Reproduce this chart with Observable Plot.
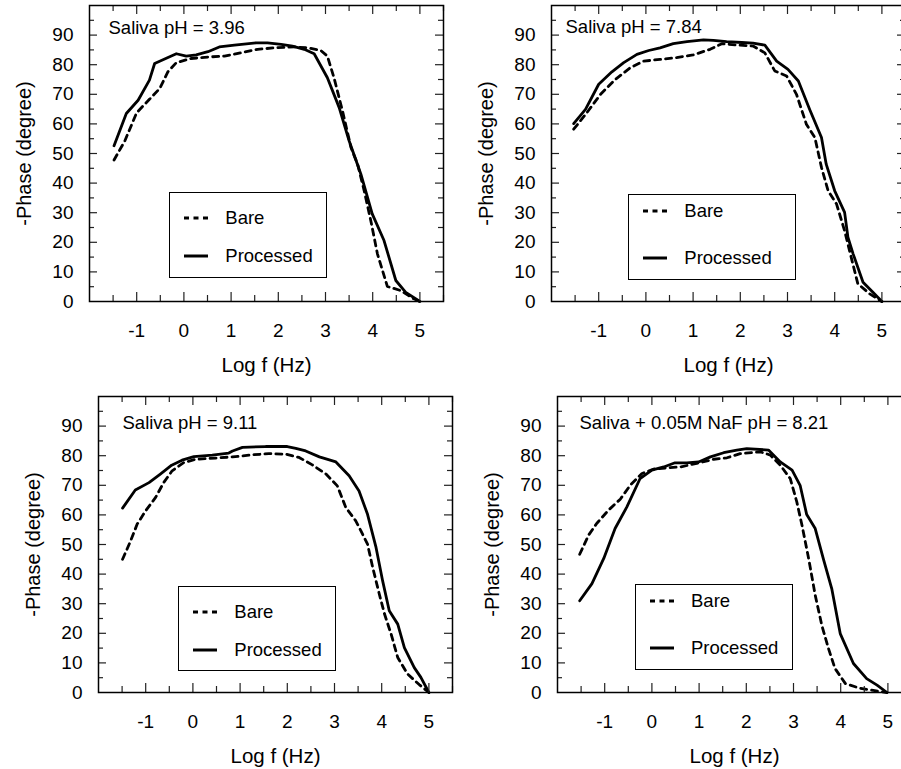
<!DOCTYPE html>
<html>
<head>
<meta charset="utf-8">
<script src="https://cdn.jsdelivr.net/npm/d3@7"></script>
<script src="https://cdn.jsdelivr.net/npm/@observablehq/plot@0.6"></script>
<style>
  html, body { margin: 0; padding: 0; background: white; }
  #wrap { position: relative; width: 901px; height: 769px; overflow: hidden; background: white;
          font-family: "Liberation Sans", Arial, sans-serif; }
  .panel { position: absolute; width: 450px; height: 384px; }
  .legend { position: absolute; border: 1px solid black; background: white; box-sizing: border-box; }
  .legend .row { position: absolute; left: 0; right: 0; height: 24px; }
  .legend svg { position: absolute; left: 0; top: 0; }
  .legend span { position: absolute; font-size: 18.5px; line-height: 24px; color: black; white-space: nowrap; }
</style>
</head>
<body>
<div id="wrap"></div>
<script>
// ---------------- data ----------------
const panelTitles = ["Saliva pH = 3.96", "Saliva pH = 7.84", "Saliva pH = 9.11", "Saliva + 0.05M NaF pH = 8.21"];
const seriesNames = ["Bare", "Processed"];
const xTickLabels = [-1, 0, 1, 2, 3, 4, 5];
const yTickLabels = [0, 10, 20, 30, 40, 50, 60, 70, 80, 90];
const xMinorTicks = [-1.5, -0.5, 0.5, 1.5, 2.5, 3.5, 4.5, 5.5];
const xMajorTicks = [-1, 0, 1, 2, 3, 4, 5];
const yMajorTicks = [10, 20, 30, 40, 50, 60, 70, 80, 90];
const yMinorTicks = [5, 15, 25, 35, 45, 55, 65, 75, 85, 95];
const xTitle = "Log f (Hz)";
const yTitle = "-Phase (degree)";

const p1Processed = [[-1.48,52.6],[-1.22,63.5],[-0.97,68],[-0.73,74.8],[-0.62,80.4],[-0.16,83.7],[0.05,82.9],[0.26,83.3],[0.51,84.4],[0.75,86],[1.07,86.6],[1.53,87.4],[1.77,87.4],[2.06,86.9],[2.3,86.3],[2.55,85.2],[2.76,83.7],[3.04,75.6],[3.29,65.5],[3.5,54.3],[3.75,43],[3.99,29.6],[4.24,20.6],[4.49,7.1],[4.7,3.1],[5.0,0]];
const p1Bare = [[-1.48,47.8],[-1.25,54.3],[-1.0,63.8],[-0.73,68.3],[-0.51,72],[-0.34,77.6],[-0.16,80.7],[0.15,82.1],[0.51,82.6],[0.86,82.9],[1.21,84],[1.56,85.2],[1.92,85.7],[2.34,86],[2.62,85.7],[2.9,84.8],[3.04,82.9],[3.18,75.6],[3.36,64.4],[3.54,52],[3.68,46.4],[3.82,37.4],[3.96,27.3],[4.1,16.1],[4.31,5.1],[4.59,3.7],[4.87,0.9],[5.0,0]];

const p2Processed = [[-1.53,60.1],[-1.28,64.9],[-1.0,73.4],[-0.72,77.6],[-0.47,80.7],[-0.19,83.5],[0.06,84.8],[0.3,85.7],[0.58,87.1],[0.87,87.8],[1.22,88.4],[1.43,88.2],[1.71,87.8],[2.03,87.5],[2.27,87.3],[2.52,86.6],[2.77,81.2],[3.01,78.4],[3.23,74.5],[3.47,64.9],[3.72,55.4],[3.82,46.4],[4.0,37.4],[4.21,30.1],[4.28,21.7],[4.39,16.1],[4.6,6.5],[4.81,3.1],[5.0,0]];
const p2Bare = [[-1.53,58.2],[-1.25,63.8],[-0.96,70],[-0.65,75],[-0.33,79],[-0.05,81.2],[0.3,81.8],[0.65,82.4],[1.0,83.3],[1.36,85.2],[1.61,87.1],[1.99,86.6],[2.27,86.3],[2.52,84],[2.73,77.9],[2.98,76.2],[3.19,70],[3.4,59.9],[3.58,55.4],[3.72,45.3],[3.86,37.4],[4.04,32.9],[4.21,23.9],[4.35,14.9],[4.49,6],[4.74,2.6],[5.0,0]];

const p3Processed = [[-1.49,62.3],[-1.22,68.4],[-0.93,70.9],[-0.69,73.8],[-0.45,76.8],[-0.23,78.5],[0.02,79.7],[0.41,80.2],[0.76,80.9],[0.84,81.6],[1.05,82.8],[1.54,83.1],[2.0,83.1],[2.18,82.5],[2.39,81.6],[2.68,79.6],[3.03,77.9],[3.31,73.2],[3.52,68.1],[3.7,60.2],[3.88,49],[4.02,37.7],[4.16,27.6],[4.34,23.1],[4.48,15.2],[4.69,8.4],[4.83,5.1],[5.0,0]];
const p3Bare = [[-1.49,45],[-1.32,51.2],[-1.18,56.9],[-1.0,61.4],[-0.79,65.9],[-0.62,70.9],[-0.44,74.9],[-0.19,77.7],[0.06,78.8],[0.48,79.2],[0.84,79.6],[1.26,80.3],[1.61,80.7],[1.97,80.5],[2.25,79.4],[2.53,76.9],[2.82,73.8],[3.06,69.8],[3.24,62.5],[3.45,58],[3.56,54.6],[3.7,50.1],[3.81,42.2],[3.95,33.2],[4.06,26.5],[4.2,19.7],[4.34,11.8],[4.55,6.2],[4.8,2.6],[5.0,0]];

const p4Processed = [[-1.53,31],[-1.27,36.8],[-1.02,45.3],[-0.78,55.4],[-0.53,62.7],[-0.25,72.3],[0.0,75.1],[0.25,76.2],[0.49,77.6],[0.74,77.6],[0.99,77.9],[1.24,79.6],[1.52,81],[1.8,81.9],[2.01,82.4],[2.47,81.9],[2.72,77.9],[2.97,75.1],[3.14,70],[3.28,60.1],[3.46,55.4],[3.64,44.7],[3.81,35.1],[3.99,19.9],[4.27,9.8],[4.55,4.7],[4.77,2.5],[4.98,0]];
const p4Bare = [[-1.53,46.7],[-1.34,53.2],[-1.17,57.1],[-0.92,61.6],[-0.67,65.3],[-0.46,70],[-0.21,74],[0.04,75.5],[0.32,75.9],[0.6,76.2],[0.95,77.4],[1.31,78.8],[1.59,79.3],[1.87,80.7],[2.3,81.3],[2.51,80.2],[2.72,76.8],[2.93,72.3],[3.07,64.4],[3.18,56.5],[3.32,45.3],[3.46,32.9],[3.6,22.7],[3.74,14.9],[3.88,8.1],[4.1,3],[4.41,1.4],[4.69,0.7],[4.98,0]];

// ---------------- layout (positions / sizes, not data) ----------------
const W = 450, H = 384, ML = 88, MR = 8, MT = 5, MB = 83;
const FW = W - ML - MR, FH = H - MT - MB;
const panels = [
  {left: 0.5, top: 0,   title: panelTitles[0], bare: p1Bare, proc: p1Processed, tdx: 19, tdy: 23,
   leg: {l: 80.8, t: 187, w: 158, h: 86, r1: 25, r2: 63}},
  {left: 463, top: 0,   title: panelTitles[1], bare: p2Bare, proc: p2Processed, tdx: 14, tdy: 22,
   leg: {l: 77.3, t: 189, w: 168, h: 86, r1: 16, r2: 62.5}},
  {left: 9.5, top: 391, title: panelTitles[2], bare: p3Bare, proc: p3Processed, tdx: 24, tdy: 27,
   leg: {l: 80.8, t: 190, w: 158, h: 85, r1: 24.5, r2: 62.6}},
  {left: 469, top: 391, title: panelTitles[3], bare: p4Bare, proc: p4Processed, tdx: 22, tdy: 27,
   leg: {l: 78, t: 188, w: 158, h: 86, r1: 16, r2: 62.7}}
];

const FONT = '"Liberation Sans", Arial, sans-serif';
const TICK = "#222222";
const wrap = document.getElementById("wrap");
const toObj = arr => arr.map(([x, y]) => ({x, y}));
const base = {width: W, height: H, marginLeft: ML, marginRight: MR, marginTop: MT, marginBottom: MB,
              x: {domain: [-2, 5.5]}, y: {domain: [0, 100]}};

function place(node, p) {
  const div = document.createElement("div");
  div.className = "panel";
  div.style.left = p.left + "px";
  div.style.top = p.top + "px";
  div.appendChild(node);
  wrap.appendChild(div);
}

for (const p of panels) {
  // layer 1: texts and curves
  const chart = Plot.plot({
    ...base,
    style: {fontFamily: FONT, fontSize: "19px", color: "black"},
    marks: [
      Plot.axisX({ticks: xTickLabels, anchor: "bottom", tickSize: 0, tickPadding: 22, label: null, fontSize: 19, tickFormat: d => String(d)}),
      Plot.axisY({ticks: yTickLabels, anchor: "left", tickSize: 0, tickPadding: 16, label: null, fontSize: 19, tickFormat: d => String(d)}),
      Plot.text([xTitle], {frameAnchor: "bottom", dy: 64, lineAnchor: "middle", fontSize: 20.5, fill: "black"}),
      Plot.text([yTitle], {frameAnchor: "left", dx: -65, rotate: -90, textAnchor: "middle", lineAnchor: "middle", fontSize: 20, fill: "black"}),
      Plot.text([p.title], {frameAnchor: "top-left", dx: p.tdx, dy: p.tdy, textAnchor: "start", lineAnchor: "middle", fontSize: 18.5, fill: "black"}),
      Plot.line(toObj(p.bare), {x: "x", y: "y", stroke: "black", strokeWidth: 2.8, strokeDasharray: "6,5"}),
      Plot.line(toObj(p.proc), {x: "x", y: "y", stroke: "black", strokeWidth: 2.8})
    ]
  });
  place(chart, p);

  // layer 2: frame and inward ticks (same scales, transparent overlay)
  const ticks = Plot.plot({
    ...base,
    x: {domain: [-2, 5.5], axis: null},
    y: {domain: [0, 100], axis: null},
    marks: [
      Plot.tickX(xMajorTicks, {x: d => d, insetTop: FH - 9, stroke: TICK, strokeWidth: 1.2}),
      Plot.tickX(xMinorTicks, {x: d => d, insetTop: FH - 6, stroke: TICK, strokeWidth: 1.2}),
      Plot.tickX(xMajorTicks, {x: d => d, insetBottom: FH - 9, stroke: TICK, strokeWidth: 1.2}),
      Plot.tickX(xMinorTicks, {x: d => d, insetBottom: FH - 6, stroke: TICK, strokeWidth: 1.2}),
      Plot.tickY(yMajorTicks, {y: d => d, insetRight: FW - 8, stroke: TICK, strokeWidth: 1.2}),
      Plot.tickY(yMinorTicks, {y: d => d, insetRight: FW - 5, stroke: TICK, strokeWidth: 1.2}),
      Plot.tickY(yMajorTicks, {y: d => d, insetLeft: FW - 8, stroke: TICK, strokeWidth: 1.2}),
      Plot.tickY(yMinorTicks, {y: d => d, insetLeft: FW - 5, stroke: TICK, strokeWidth: 1.2}),
      Plot.frame({stroke: "black", strokeWidth: 1.5})
    ]
  });
  place(ticks, p);

  // legend overlay
  const lg = document.createElement("div");
  lg.className = "legend";
  lg.style.left = (p.left + ML + p.leg.l) + "px";
  lg.style.top = (p.top + MT + p.leg.t) + "px";
  lg.style.width = p.leg.w + "px";
  lg.style.height = p.leg.h + "px";
  [[seriesNames[0], "5,4.5", p.leg.r1], [seriesNames[1], null, p.leg.r2]].forEach(([name, dash, ry]) => {
    const row = document.createElement("div");
    row.className = "row";
    row.style.top = (ry - 12) + "px";
    row.innerHTML = `<svg width="50" height="24"><line x1="14" x2="38" y1="12" y2="12" stroke="black" stroke-width="3" ${dash ? `stroke-dasharray="${dash}"` : ""}/></svg><span style="left:55px">${name}</span>`;
    lg.appendChild(row);
  });
  wrap.appendChild(lg);
}
</script>
</body>
</html>
